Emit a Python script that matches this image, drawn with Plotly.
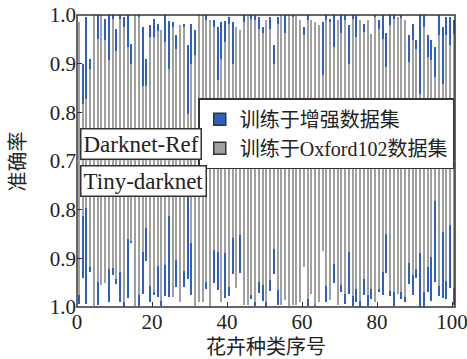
import plotly.graph_objects as go
from plotly.subplots import make_subplots

classes = list(range(1, 102))
xticks = [0, 20, 40, 60, 80, 100]

ref_oxford = [0.985,0.818,0.828,0.89,1.0,0.951,1.0,0.948,0.907,0.992,
              0.927,0.992,0.975,0.935,0.9,1.0,0.995,0.855,0.855,0.955,
              0.955,0.968,0.97,0.945,0.89,0.975,0.93,0.98,0.975,0.797,
              0.9,0.917,1.0,1.0,0.99,0.99,0.975,0.866,0.91,0.945,
              0.982,0.9,0.975,0.97,0.986,1.0,0.992,0.99,0.972,0.962,
              0.99,0.972,0.9,0.982,1.0,0.962,1.0,0.995,1.0,0.99,
              0.958,0.99,0.99,0.985,0.98,0.876,0.99,0.985,0.934,0.99,
              0.962,0.99,0.9,0.992,0.955,0.99,0.965,0.99,0.96,0.996,
              0.972,0.951,0.893,0.979,0.992,0.995,0.994,0.99,0.903,0.948,
              0.931,0.838,0.975,0.914,0.907,0.872,0.958,0.859,0.958,0.938,
              0.96]
ref_aug = [0.985,0.9,0.996,0.91,1.0,1.0,1.0,0.992,1.0,1.0,
           0.972,1.0,0.996,1.0,0.941,1.0,1.0,0.975,0.91,0.98,
           0.992,0.982,0.97,1.0,0.987,0.986,0.958,0.98,0.982,0.938,
           0.982,0.969,1.0,1.0,1.0,0.99,0.989,0.975,0.986,0.987,
           0.996,0.986,0.975,0.97,1.0,1.0,1.0,1.0,0.996,0.975,
           0.99,0.996,0.938,0.996,1.0,1.0,1.0,1.0,1.0,0.99,
           0.975,1.0,0.99,0.985,0.98,0.986,1.0,0.992,1.0,0.99,
           1.0,1.0,0.979,1.0,1.0,0.99,0.982,0.99,0.96,1.0,
           0.989,1.0,0.964,1.0,1.0,0.995,1.0,0.99,0.958,0.982,
           0.948,1.0,1.0,0.958,0.948,0.934,1.0,0.975,0.996,0.996,
           0.99]
tiny_oxford = [0.976,0.812,0.797,0.918,0.998,0.948,0.954,0.95,0.921,0.92,
               0.942,0.928,0.99,0.86,0.865,0.997,0.976,0.887,0.837,0.957,
               0.969,0.915,0.988,0.914,0.814,0.979,0.904,0.99,0.926,0.77,
               0.868,0.997,0.99,0.99,0.948,1.0,0.883,0.888,0.99,0.89,
               0.959,0.859,0.96,0.852,0.995,0.995,0.976,0.99,0.948,0.955,
               0.99,0.945,0.88,0.966,0.995,0.986,0.998,0.995,0.995,0.99,
               0.918,0.983,0.973,0.995,0.99,0.885,0.957,0.986,0.911,0.995,
               0.955,0.973,0.887,0.977,0.962,0.988,0.943,0.976,0.964,0.99,
               0.962,0.929,0.849,0.968,0.97,0.973,0.969,0.979,0.909,0.934,
               0.922,0.89,0.969,0.918,0.897,0.783,0.957,0.845,0.947,0.832,
               0.96]
tiny_aug = [0.994,0.941,0.993,0.928,0.998,0.995,0.954,0.95,0.99,0.935,
            0.952,0.99,1.0,0.981,0.869,0.997,0.997,0.973,0.906,0.99,
            0.975,0.98,0.998,0.977,0.979,0.979,0.959,0.99,0.959,0.943,
            0.976,0.997,0.99,0.99,0.962,1.0,0.95,0.966,0.99,0.981,
            0.977,0.933,0.96,0.931,0.995,0.995,0.983,0.997,0.972,0.988,
            1.0,0.968,0.933,0.995,0.995,0.986,0.998,0.995,0.995,0.99,
            0.918,0.997,0.973,0.998,0.99,0.885,0.99,0.986,0.95,0.995,
            0.969,0.993,0.973,0.997,0.99,1.0,0.975,0.997,0.983,0.99,
            0.969,0.976,0.931,0.977,0.997,0.973,0.983,0.99,0.952,0.975,
            0.94,1.0,1.0,0.97,0.988,0.948,0.977,0.981,0.984,0.961,
            0.995]

BLUE = "#3060bf"
GRAY = "#a0a0a0"
FONT = "Liberation Serif, Noto Sans CJK SC"
xpos = [c - 0.5 for c in classes]

fig = make_subplots(rows=2, cols=1, shared_xaxes=True, vertical_spacing=0)

for row, aug, oxf in [(1, ref_aug, ref_oxford), (2, tiny_aug, tiny_oxford)]:
    fig.add_trace(go.Bar(x=xpos, y=aug, width=0.55, marker=dict(color=BLUE, line=dict(width=0)),
                         showlegend=False), row=row, col=1)
    fig.add_trace(go.Bar(x=xpos, y=oxf, width=0.55, marker=dict(color=GRAY, line=dict(width=0)),
                         showlegend=False), row=row, col=1)

fig.add_trace(go.Bar(x=[None], y=[None], name="训练于增强数据集",
                     marker=dict(color=BLUE, line=dict(color="#333", width=1.5))), row=1, col=1)
fig.add_trace(go.Bar(x=[None], y=[None], name="训练于Oxford102数据集",
                     marker=dict(color=GRAY, line=dict(color="#333", width=1.5))), row=1, col=1)

axis_common = dict(showgrid=False, zeroline=False, ticks="inside", ticklen=5, tickwidth=1.2,
                   tickcolor="#333", automargin=False, ticklabeloverflow="allow",
                   tickfont=dict(family=FONT, size=21, color="#222"))

fig.update_xaxes(range=[0, 100.8], tickvals=xticks, **axis_common)
fig.update_xaxes(showticklabels=False, ticks="", row=1, col=1)
fig.update_xaxes(title=dict(text="花卉种类序号", font=dict(family=FONT, size=20, color="#222"), standoff=6),
                 ticklabelstandoff=0, row=2, col=1)
fig.update_yaxes(range=[0.7, 1.0], tickvals=[0.7, 0.8, 0.9, 1.0], ticktext=["0.7", "0.8", "0.9", "1.0"],
                 row=1, col=1, **axis_common)
fig.update_yaxes(range=[1.0, 0.7], tickvals=[0.8, 0.9, 1.0], ticktext=["0.8", "0.9", "1.0"],
                 row=2, col=1, **axis_common)

fig.add_shape(type="rect", xref="paper", yref="paper", x0=0, x1=1, y0=0, y1=1,
              line=dict(color="#333", width=1.5), fillcolor="rgba(0,0,0,0)")
fig.add_shape(type="line", xref="paper", yref="paper", x0=0, x1=1, y0=0.5, y1=0.5,
              line=dict(color="#bbbbbb", width=0.6))

for text, yv in [("Darknet-Ref", 0.558), ("Tiny-darknet", 0.432)]:
    fig.add_annotation(text=text, xref="paper", yref="paper", x=0.008, y=yv, xanchor="left",
                       yanchor="middle", showarrow=False, bgcolor="white", bordercolor="#333",
                       borderwidth=1.5, borderpad=2, font=dict(family=FONT, size=23, color="#222"))

fig.add_annotation(text="准确率", xref="paper", yref="paper", x=-0.155, y=0.5, textangle=-90,
                   showarrow=False, xanchor="center", yanchor="middle",
                   font=dict(family=FONT, size=20, color="#222"))

fig.update_layout(
    width=467, height=359, autosize=False, barmode="overlay", bargap=0,
    margin=dict(l=77, r=12, t=15, b=52),
    paper_bgcolor="white", plot_bgcolor="white",
    legend=dict(x=0.998, y=0.715, xanchor="right", yanchor="top", bgcolor="white",
                bordercolor="#333", borderwidth=1.5, font=dict(family=FONT, size=20, color="#222"),
                tracegroupgap=0, itemwidth=30),
)

post = ("document.documentElement.style.overflow='hidden';"
        "document.body.style.margin='0px';document.body.style.padding='0px';"
        "document.body.style.overflow='hidden';"
        "var gd=document.getElementById('{plot_id}');"
        "if(gd){gd.style.width='467px';gd.style.height='359px';"
        "Plotly.relayout(gd,{width:467,height:359,autosize:false});}")
fig.write_html("out.html", config={"responsive": False, "displayModeBar": False},
               default_width="467px", default_height="359px", post_script=post)
